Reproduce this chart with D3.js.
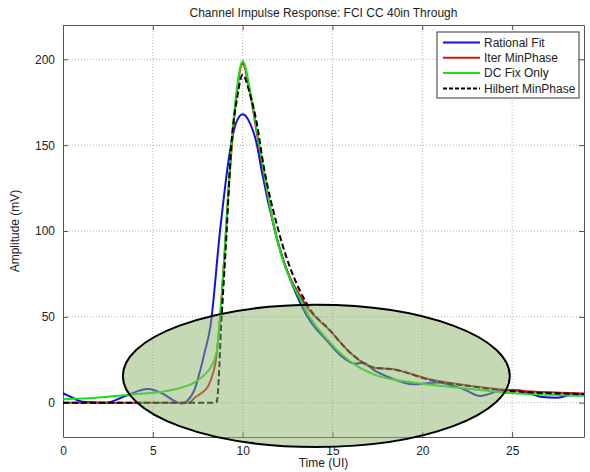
<!DOCTYPE html>
<html>
<head>
<meta charset="utf-8">
<script src="https://cdn.jsdelivr.net/npm/d3@7"></script>
<style>
    body { margin: 0; background: #fff; }
    text { font-family: "Liberation Sans", Arial, sans-serif; fill: #222; }
</style>
</head>
<body>
<svg id="chart"></svg>
<script>
// Time axis samples (UI) and amplitudes (mV)
const rationalT = [0, 0.5, 1.1, 2.4, 3.5, 4.7, 5.6, 6.2, 6.6, 7.0, 7.3, 7.63, 7.9, 8.2, 8.74, 9.3, 9.6, 10, 10.4, 10.8, 11.06, 11.8, 13.25, 14.87, 15.5, 16.26, 16.7, 17.3, 18.2, 19.5, 20.8, 22.3, 23.2, 24.5, 25.3, 26.7, 27.5, 28.2, 29];
const rationalV = [5.5, 3, 0.5, 0, 4, 8, 5, 1, -0.5, 2, 7, 18.5, 30, 44, 100, 147, 162, 168, 163, 150, 135, 100, 57, 34, 27, 22.7, 23.3, 19, 14.6, 10.7, 11.7, 7.8, 3.9, 7.2, 7.2, 3.3, 2.9, 4.3, 4.5];

const iterT = [0, 3, 6, 7.0, 7.35, 7.63, 8.1, 8.37, 8.5, 8.74, 9.0, 9.2, 9.4, 9.67, 10, 10.4, 10.9, 11.8, 13.5, 14.87, 16, 17.3, 18.4, 20.4, 22.7, 24.7, 29];
const iterV = [0, 0, 0, 0, 3, 5, 10, 18, 24, 49, 88, 122, 150, 180, 197.5, 181, 150, 100, 57, 42, 29, 20.4, 19.5, 13.6, 9.7, 7.4, 5.4];

const dcFixT = [0, 2, 3.5, 5.4, 6.5, 7.35, 7.9, 8.3, 8.56, 8.74, 9.0, 9.2, 9.39, 9.67, 10, 10.41, 10.9, 11.8, 13.35, 14.87, 16.35, 17.3, 19.5, 22.3, 24.7, 27.9, 29];
const dcFixV = [2, 3, 4.5, 6.2, 8.5, 12, 16.5, 22, 30, 50, 88, 123, 152, 182, 199, 182, 152, 100, 57, 35, 21.4, 16.5, 11.7, 8.4, 5.8, 4.3, 4];

const hilbertT = [0, 4, 8.5, 8.56, 8.83, 9.1, 9.35, 9.7, 10, 10.4, 10.8, 11.15, 12.0, 13.6, 14.87, 16, 17.3, 18.4, 20.4, 22.7, 24.7, 29];
const hilbertV = [0, 0, 0, 0.5, 50, 98, 147, 178, 191, 180, 162, 139, 100, 57, 42, 29, 20.5, 19.3, 13.4, 9.5, 7, 5];

const seriesNames = ['Rational Fit', 'Iter MinPhase', 'DC Fix Only', 'Hilbert MinPhase'];
const xTicks = [0, 5, 10, 15, 20, 25];
const yTicks = [0, 50, 100, 150, 200];

// highlight ellipse, in data units: centre t, centre mV, radius t, radius mV
const highlight = [14.1, 15.6, 10.77, 41.4];

class ImpulseChart {

    constructor(_config, _data) {
        this.config = {
            parentElement: _config.parentElement,
            containerWidth: _config.containerWidth || 590,
            containerHeight: _config.containerHeight || 472,
            margin: _config.margin || { top: 25, right: 6, bottom: 35, left: 63 }
        }
        this.data = _data;
        this.initVis();
    }

    initVis() {
        let vis = this;

        vis.width = vis.config.containerWidth - vis.config.margin.left - vis.config.margin.right;
        vis.height = vis.config.containerHeight - vis.config.margin.top - vis.config.margin.bottom;

        vis.xScale = d3.scaleLinear()
            .range([0, vis.width])
            .domain([0, 29]);

        vis.yScale = d3.scaleLinear()
            .range([vis.height, 0])
            .domain([-20, 220]);

        vis.svg = d3.select(vis.config.parentElement)
            .attr('width', vis.config.containerWidth)
            .attr('height', vis.config.containerHeight);

        vis.chart = vis.svg.append('g')
            .attr('transform', `translate(${vis.config.margin.left},${vis.config.margin.top})`);

        // dotted grid
        vis.chart.append('g')
            .attr('class', 'grid')
            .selectAll('line.gx')
            .data(xTicks.filter(d => d > 0))
            .join('line')
            .attr('x1', d => vis.xScale(d)).attr('x2', d => vis.xScale(d))
            .attr('y1', 0).attr('y2', vis.height)
            .attr('stroke', '#b0b0b0').attr('stroke-dasharray', '1,2');

        vis.chart.append('g')
            .selectAll('line')
            .data(yTicks)
            .join('line')
            .attr('x1', 0).attr('x2', vis.width)
            .attr('y1', d => vis.yScale(d)).attr('y2', d => vis.yScale(d))
            .attr('stroke', '#b0b0b0').attr('stroke-dasharray', '1,2');

        // axes, MATLAB style ticks pointing inward
        vis.xAxis = d3.axisBottom(vis.xScale).tickValues(xTicks).tickSize(-5).tickSizeOuter(0).tickPadding(9);
        vis.yAxis = d3.axisLeft(vis.yScale).tickValues(yTicks).tickSize(-5).tickSizeOuter(0).tickPadding(8);
        vis.xTop = d3.axisTop(vis.xScale).tickValues(xTicks).tickSize(-5).tickSizeOuter(0).tickFormat('');
        vis.yRight = d3.axisRight(vis.yScale).tickValues(yTicks).tickSize(-5).tickSizeOuter(0).tickFormat('');

        vis.xAxisG = vis.chart.append('g').attr('transform', `translate(0,${vis.height})`);
        vis.yAxisG = vis.chart.append('g');
        vis.xTopG = vis.chart.append('g');
        vis.yRightG = vis.chart.append('g').attr('transform', `translate(${vis.width},0)`);

        vis.marks = vis.chart.append('g');
        vis.overlay = vis.chart.append('g');

        vis.colorScale = d3.scaleOrdinal()
            .domain(seriesNames)
            .range(['#1010e0', '#d01818', '#18e018', '#000']);

        vis.svg.append('text')
            .attr('x', vis.config.margin.left + vis.width / 2)
            .attr('y', 17)
            .attr('text-anchor', 'middle')
            .style('font-size', '12px')
            .text('Channel Impulse Response: FCI CC 40in Through');

        vis.svg.append('text')
            .attr('x', vis.config.margin.left + vis.width / 2)
            .attr('y', 467)
            .attr('text-anchor', 'middle')
            .style('font-size', '12px')
            .text('Time (UI)');

        vis.svg.append('text')
            .attr('transform', `translate(19,${vis.config.margin.top + vis.height / 2}) rotate(-90)`)
            .attr('text-anchor', 'middle')
            .style('font-size', '12px')
            .text('Amplitude (mV)');
    }

    renderVis() {
        let vis = this;

        vis.line = d3.line()
            .x(d => vis.xScale(d[0]))
            .y(d => vis.yScale(d[1]))
            .curve(d3.curveMonotoneX);

        vis.marks.selectAll('.chart-line')
            .data(vis.data)
            .join('path')
            .attr('class', 'chart-line')
            .attr('fill', 'none')
            .attr('stroke-width', 2)
            .attr('stroke', d => vis.colorScale(d.name))
            .attr('stroke-dasharray', d => d.dashed ? '6,3' : null)
            .attr('d', d => vis.line(d.t.map((t, i) => [t, d.v[i]])));

        // translucent highlight ellipse on top of the traces
        vis.overlay.append('ellipse')
            .attr('cx', vis.xScale(highlight[0]))
            .attr('cy', vis.yScale(highlight[1]))
            .attr('rx', vis.xScale(highlight[2]) - vis.xScale(0))
            .attr('ry', vis.yScale(0) - vis.yScale(highlight[3]))
            .attr('fill', '#8cb46a')
            .attr('fill-opacity', 0.5)
            .attr('stroke', '#000')
            .attr('stroke-width', 2);

        vis.xAxisG.call(vis.xAxis);
        vis.yAxisG.call(vis.yAxis);
        vis.xTopG.call(vis.xTop);
        vis.yRightG.call(vis.yRight);
        vis.chart.selectAll('.domain').attr('stroke', '#555');
        vis.chart.selectAll('.tick line').attr('stroke', '#555');
        vis.chart.selectAll('.tick text').style('font-size', '12px').attr('fill', '#222');

        // legend
        let lg = vis.chart.append('g')
            .attr('transform', `translate(${vis.width - 147},7)`);
        lg.append('rect')
            .attr('width', 142).attr('height', 66)
            .attr('fill', '#fff').attr('stroke', '#333');
        let item = lg.selectAll('.item')
            .data(vis.data)
            .join('g')
            .attr('class', 'item')
            .attr('transform', (d, i) => `translate(0,${10.5 + i * 15.3})`);
        item.append('line')
            .attr('x1', 6).attr('x2', 43)
            .attr('stroke', d => vis.colorScale(d.name))
            .attr('stroke-width', 2)
            .attr('stroke-dasharray', d => d.dashed ? '4,2' : null);
        item.append('text')
            .attr('x', 47).attr('dy', '0.35em')
            .style('font-size', '12px')
            .text(d => d.name);
    }
}

const data = [
    { name: seriesNames[0], t: rationalT, v: rationalV },
    { name: seriesNames[1], t: iterT, v: iterV },
    { name: seriesNames[2], t: dcFixT, v: dcFixV },
    { name: seriesNames[3], t: hilbertT, v: hilbertV, dashed: true }
];

const chart = new ImpulseChart({ parentElement: '#chart' }, data);
chart.renderVis();
</script>
</body>
</html>
